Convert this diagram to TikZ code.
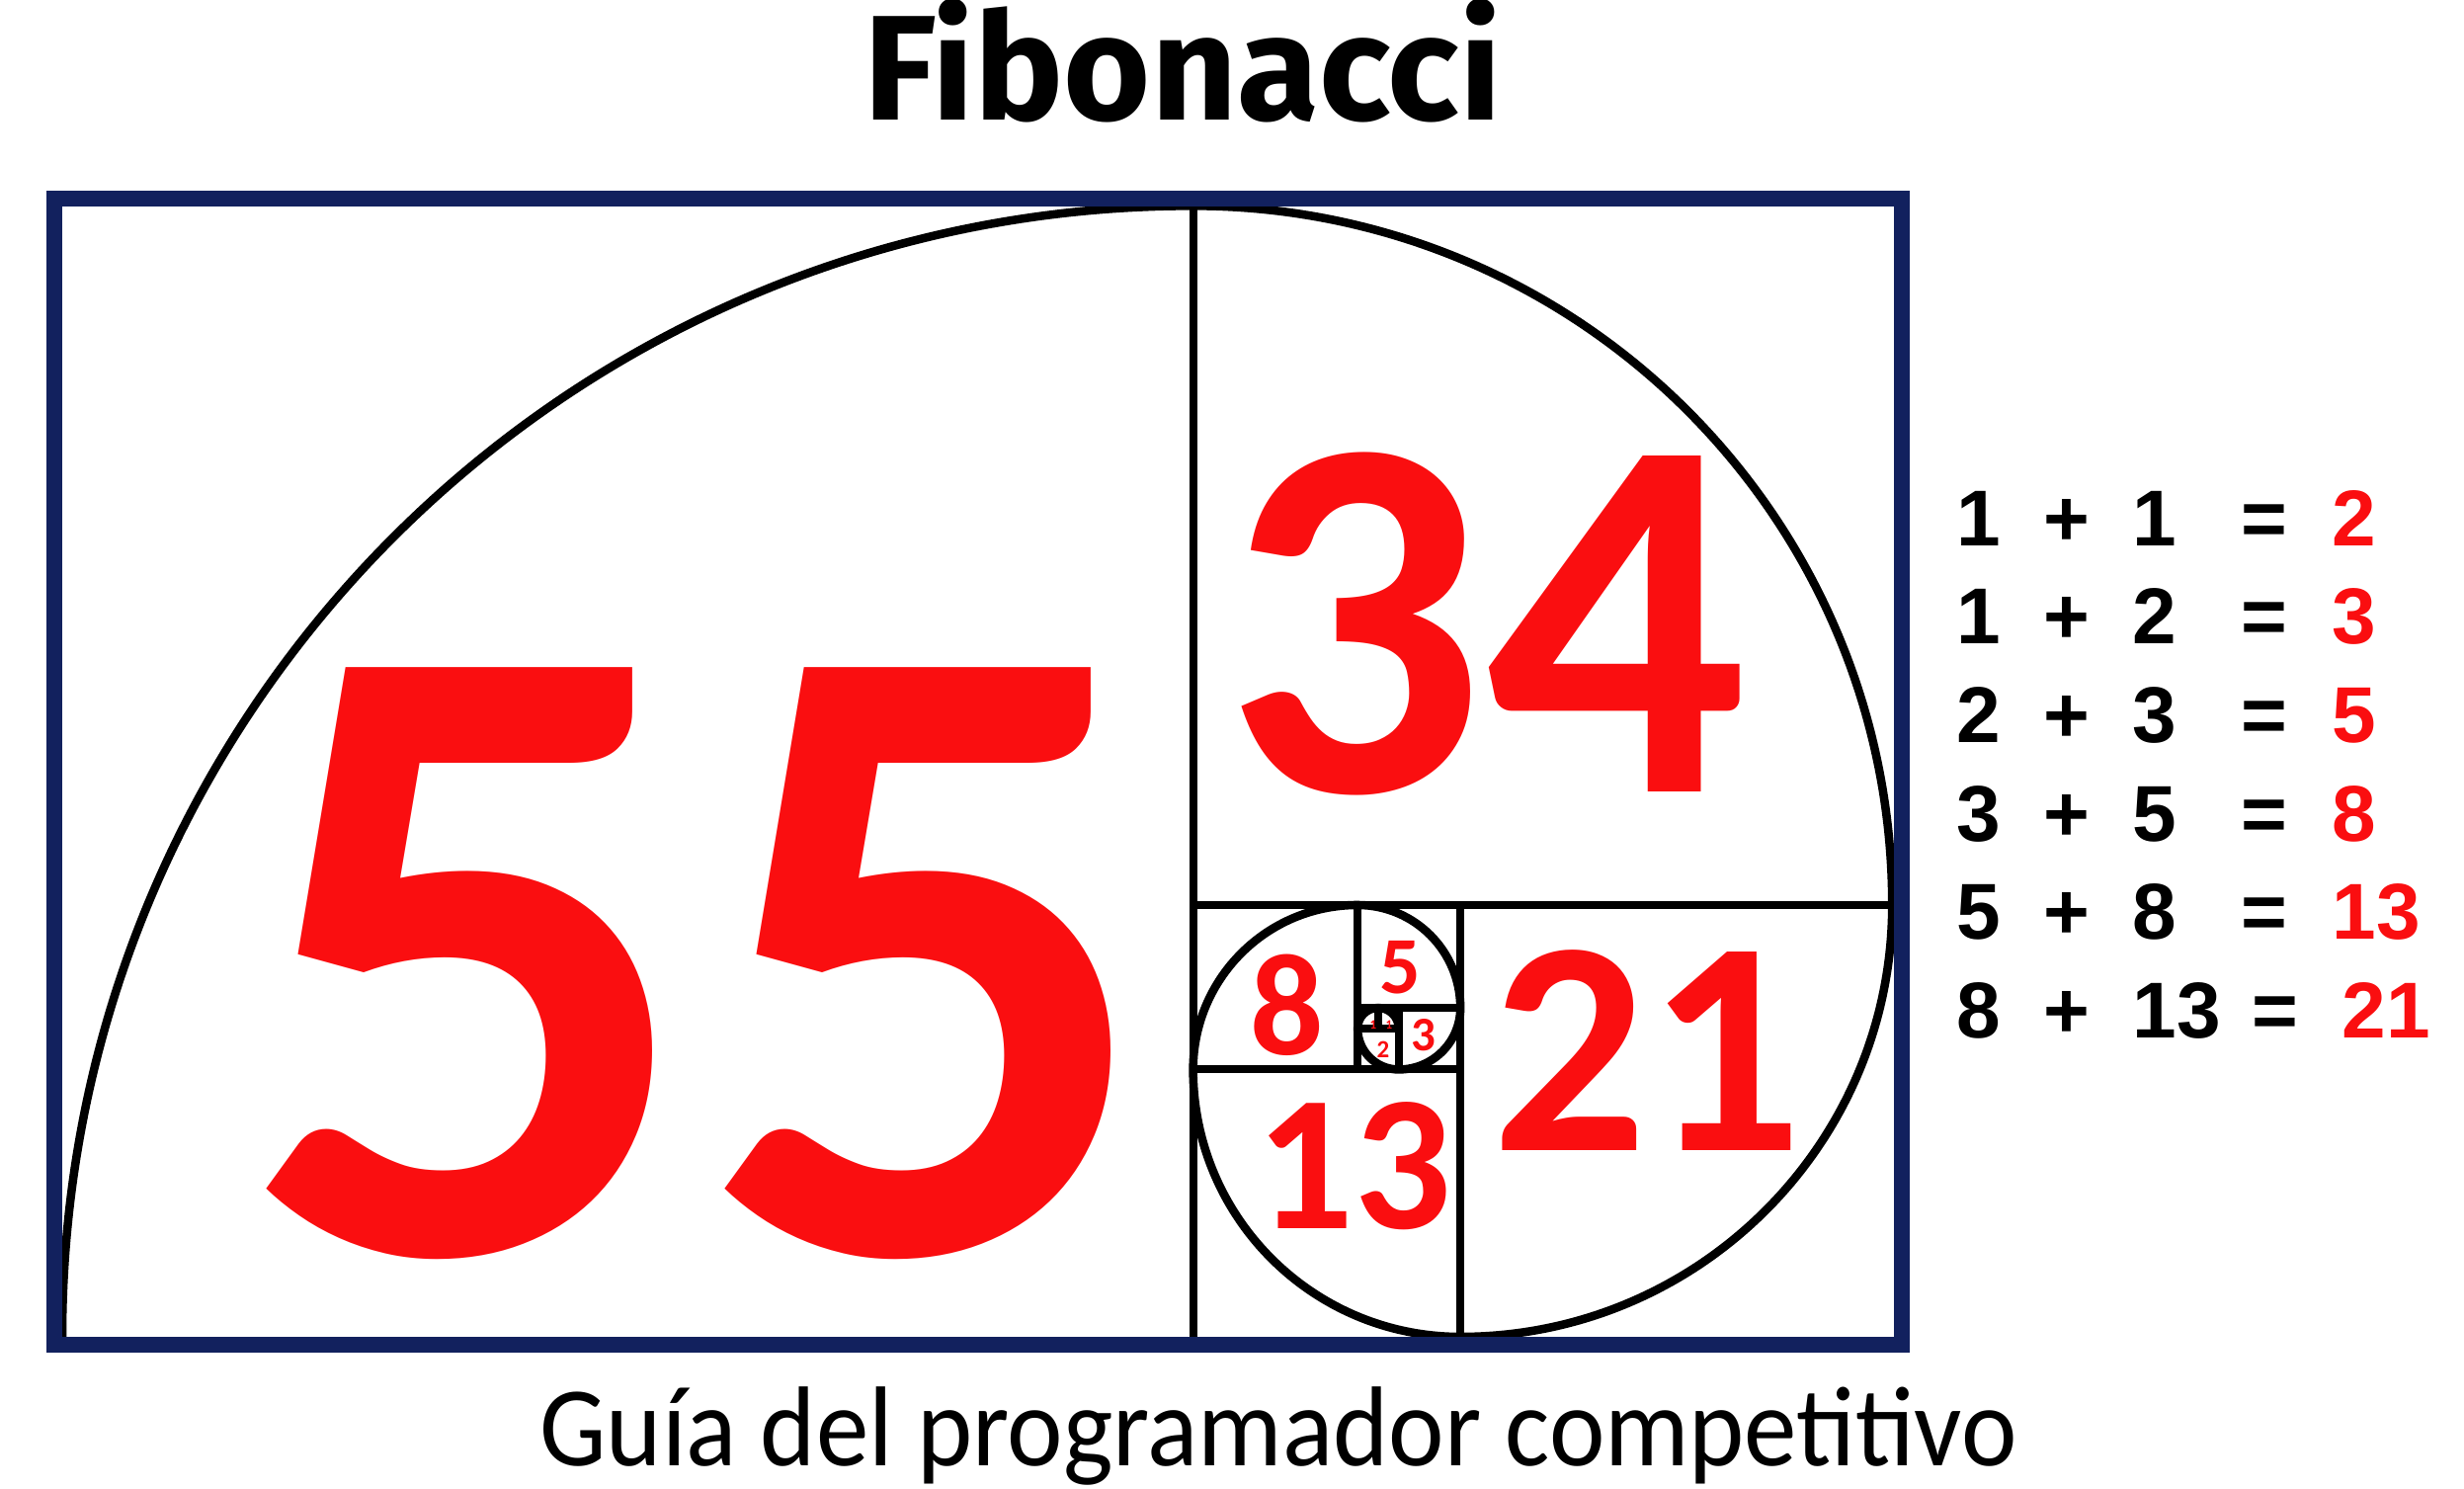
\documentclass[tikz,border=0pt]{standalone}
\usepackage{fontspec}
\setmainfont{Carlito}
\newfontfamily\titlefont{Fira Sans}
\newfontfamily\eqfont{Liberation Sans}
\definecolor{fibred}{RGB}{250,14,16}
\definecolor{fibnavy}{RGB}{18,33,94}
\tikzset{
  gridline/.style={line width=0.08cm, black},
  spiral/.style={line width=0.085cm, black},
  frame/.style={line width=0.16cm, fibnavy},
  redn/.style={text=fibred, inner sep=0pt, font=\bfseries},
  eqn/.style={inner sep=0pt, anchor=base west},
  eqop/.style={inner sep=0pt, anchor=base},
}
\begin{document}
\begin{tikzpicture}[x=0.01cm,y=0.01cm]
\useasboundingbox (0,0) rectangle (2494,1506);
\fill[white] (0,0) rectangle (2494,1506);

% squares and spiral in Fibonacci units
\begin{scope}[shift={(63,153)},x=0.208cm,y=0.208cm]
  \draw[gridline] (55,0) -- (55,55);
  \draw[gridline] (55,21) -- (89.2,21);
  \draw[gridline] (68,0) -- (68,21);
  \draw[gridline] (55,13) -- (68,13);
  \draw[gridline] (63,13) -- (63,21);
  \draw[gridline] (63,16) -- (68,16);
  \draw[gridline] (65,13) -- (65,16);
  \draw[gridline] (63,15) -- (65,15);
  \draw[gridline] (64,15) -- (64,16);
  \draw[spiral] (0,0) arc[start angle=180, end angle=90, radius=55]
    arc[start angle=90, end angle=0, radius=34]
    arc[start angle=0, end angle=-90, radius=21]
    arc[start angle=-90, end angle=-180, radius=13]
    arc[start angle=180, end angle=90, radius=8]
    arc[start angle=90, end angle=0, radius=5]
    arc[start angle=0, end angle=-90, radius=3]
    arc[start angle=-90, end angle=-180, radius=2]
    arc[start angle=180, end angle=90, radius=1]
    arc[start angle=90, end angle=0, radius=1];
\end{scope}

\draw[frame] (55,145) rectangle (1925,1305);

% red numbers
\node[redn, font=\bfseries\fontsize{260pt}{260pt}\selectfont] (n55) at (707,531) {55};
\node[redn, font=\bfseries\fontsize{149pt}{149pt}\selectfont] (n34) at (1503,875) {34};
\node[redn, font=\bfseries\fontsize{88pt}{88pt}\selectfont] (n21) at (1667,443) {21};
\node[redn, font=\bfseries\fontsize{55.5pt}{55.5pt}\selectfont] (n13) at (1370,326) {13};
\node[redn, font=\bfseries\fontsize{41.8pt}{41.8pt}\selectfont] (n8) at (1303,489) {8};
\node[redn, font=\bfseries\fontsize{23.3pt}{23.3pt}\selectfont] (n5) at (1417,527) {5};
\node[redn, font=\bfseries\fontsize{13.9pt}{13.9pt}\selectfont] (n3) at (1441,458) {3};
\node[redn, font=\bfseries\fontsize{7.1pt}{7.1pt}\selectfont] (n2) at (1400,444) {2};
\node[redn, font=\bfseries\fontsize{3.7pt}{3.7pt}\selectfont] (n1a) at (1390,469) {1};
\node[redn, font=\bfseries\fontsize{3.7pt}{3.7pt}\selectfont] (n1b) at (1406,469) {1};

% title and subtitle
\node[inner sep=0pt, anchor=base, font=\titlefont\bfseries\fontsize{43pt}{43pt}\selectfont] (title) at (1197,1384) {Fibonacci};
\node[inner sep=0pt, anchor=base, xscale=0.93, font=\fontsize{32.7pt}{32.7pt}\selectfont] (sub) at (1294,22) {Guía del programador competitivo};

% equations
\begin{scope}[every node/.append style={font=\eqfont\bfseries\fontsize{22.8pt}{22.8pt}\selectfont}]
  \foreach \a/\b/\c/\yy/\ex/\rx [count=\i] in {1/1/2/953/2292/2360, 1/2/3/854/2292/2360, 2/3/5/754/2292/2360, 3/5/8/654/2292/2360, 5/8/13/555/2292/2360, 8/13/21/455/2303/2370}{
    \node[eqn] (ea\i) at (1980,\yy) {\a};
    \node[eqop] (ep\i) at (2092,\yy) {+};
    \node[eqn] (eb\i) at (2158,\yy) {\b};
    \node[eqop] (ee\i) at (\ex,\yy) {=};
    \node[eqn, text=fibred] (er\i) at (\rx,\yy) {\c};
  }
\end{scope}
\end{tikzpicture}
\end{document}
